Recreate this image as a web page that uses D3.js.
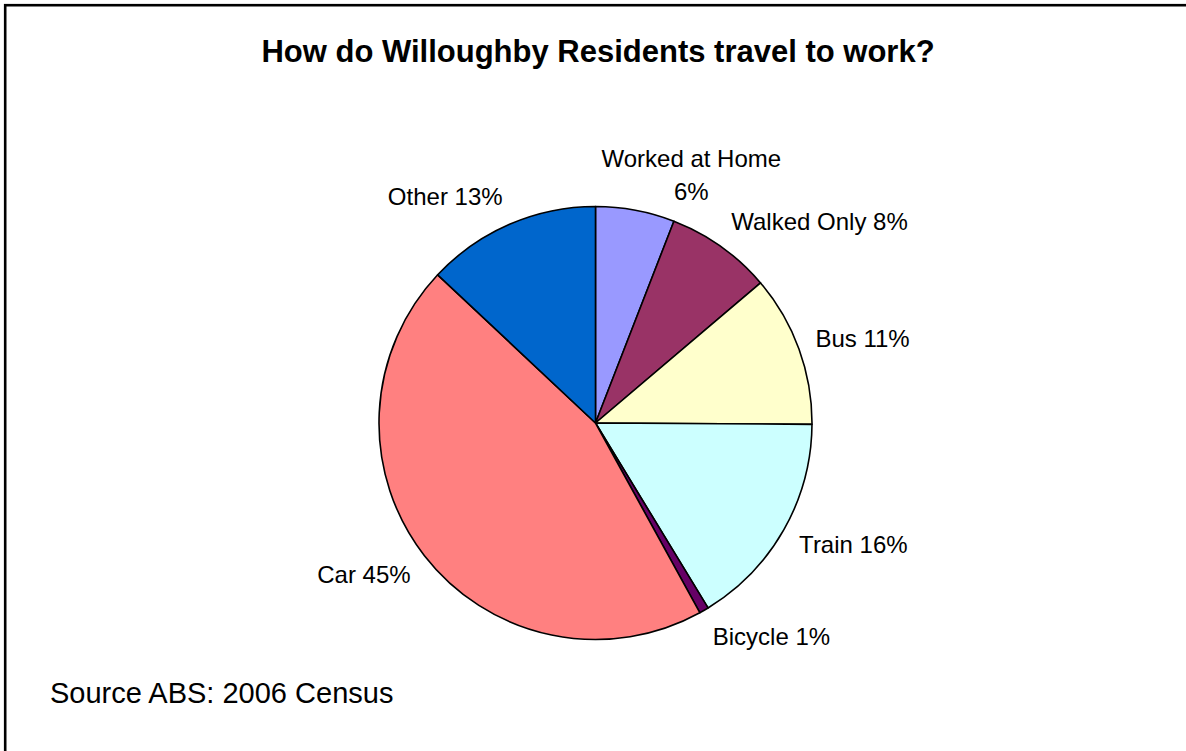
<!DOCTYPE html>
<html>
<head>
<meta charset="utf-8">
<script src="https://cdn.jsdelivr.net/npm/d3@7"></script>
<style>
  body { margin: 0; background: #fff; }
  svg { display: block; }
</style>
</head>
<body>
<svg id="chart" width="1186" height="751"></svg>
<script>

// data (percent of residents)
var categorias = ["Worked at Home", "Walked Only", "Bus", "Train", "Bicycle", "Car", "Other"];
var valores = [5.9, 7.9, 11.3, 16.2, 0.7, 45.0, 13.0];
var colores = ["#9999FF", "#993366", "#FFFFCC", "#CCFFFF", "#660066", "#FF8080", "#0066CC"];

var titulo = "How do Willoughby Residents travel to work?";
var fuente = "Source ABS: 2006 Census";

const width = 1186;
const height = 751;

const cx = 595.5;
const cy = 423;
const radio = 216.5;
// labels sit on a slightly squashed ring outside the pie
const radioEtiquetaX = 234;
const radioEtiquetaY = 247;

var pintar = () => {

  const svg = d3.select("#chart");

  svg.append("rect")
      .attr("x", 5.2)
      .attr("y", 5.2)
      .attr("width", width + 20)
      .attr("height", height + 20)
      .attr("fill", "#fff")
      .attr("stroke", "#000")
      .attr("stroke-width", 2.6);

  svg.append("text")
      .attr("x", 598)
      .attr("y", 62)
      .attr("text-anchor", "middle")
      .attr("font-family", "'Liberation Sans', Arial, sans-serif")
      .attr("font-weight", "bold")
      .attr("font-size", 31)
      .text(titulo);

  svg.append("text")
      .attr("x", 50)
      .attr("y", 703)
      .attr("font-family", "'Liberation Sans', Arial, sans-serif")
      .attr("font-size", 29)
      .text(fuente);

  var datos = categorias.map((c, i) => ({ "name": c, "value": valores[i], "color": colores[i] }));

  const pie = d3.pie()
      .sort(null)
      .value(d => d.value);

  const arcos = pie(datos);

  const arc = d3.arc()
      .innerRadius(0)
      .outerRadius(radio);

  const g = svg.append("g")
      .attr("transform", `translate(${cx},${cy})`);

  g.append("g")
      .attr("stroke", "#000")
      .attr("stroke-width", 1.6)
      .attr("stroke-linejoin", "round")
    .selectAll("path")
    .data(arcos)
    .join("path")
      .attr("fill", d => d.data.color)
      .attr("d", arc);

  const etiquetas = g.append("g")
      .attr("font-family", "'Liberation Sans', Arial, sans-serif")
      .attr("font-size", 24)
      .attr("fill", "#000");

  arcos.forEach(d => {
    var ang = (d.startAngle + d.endAngle) / 2;
    var px = radioEtiquetaX * Math.sin(ang);
    var py = -radioEtiquetaY * Math.cos(ang);
    var pct = Math.round(d.data.value) + "%";

    var t = etiquetas.append("text");

    if (Math.abs(Math.sin(ang)) < 0.3) {
      // label near the top gets wrapped in two lines, kept right of the centre line
      t.attr("text-anchor", "middle");
      var l1 = t.append("tspan").attr("x", 0).attr("y", py - 13).text(d.data.name);
      var w = l1.node().getComputedTextLength();
      var x = Math.max(px, w / 2) + 6;
      l1.attr("x", x);
      t.append("tspan").attr("x", x).attr("y", py + 20).text(pct);
    } else {
      t.attr("x", px)
        .attr("y", py + 8.5)
        .attr("text-anchor", Math.sin(ang) > 0 ? "start" : "end")
        .text(d.data.name + " " + pct);
    }
  });

  return svg.node();
}

pintar();

</script>
</body>
</html>
